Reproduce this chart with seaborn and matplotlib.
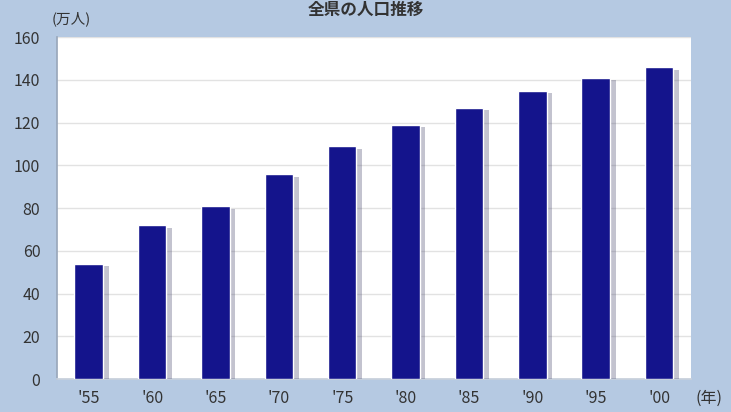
import matplotlib
matplotlib.use("Agg")
import matplotlib.pyplot as plt
import matplotlib.patheffects as pe
import pandas as pd
import seaborn as sns

years = ["'55", "'60", "'65", "'70", "'75", "'80", "'85", "'90", "'95", "'00"]
population = [54, 72, 81, 96, 109, 119, 127, 135, 141, 146]
yticks = [0, 20, 40, 60, 80, 100, 120, 140, 160]

sns.set_theme(style="white")
plt.rcParams["font.family"] = ["Noto Sans CJK JP", "DejaVu Sans"]

bg = "#b5c9e2"
bar_color = "#14148c"

df = pd.DataFrame({"year": years, "pop": population})

fig = plt.figure(figsize=(7.31, 4.12), dpi=100, facecolor=bg)
ax = fig.add_axes([0.078, 0.080, 0.867, 0.830])
ax.set_facecolor("white")

sns.barplot(data=df, x="year", y="pop", color=bar_color, saturation=1,
            width=0.45, ax=ax, zorder=3)
for p in ax.patches:
    p.set_path_effects([pe.SimplePatchShadow(offset=(4, -2), shadow_rgbFace="#555577", alpha=0.35),
                        pe.Normal()])

ax.set_ylim(0, 160)
ax.set_xlim(-0.5, 9.5)
ax.set_yticks(yticks)
ax.yaxis.grid(True, color="#e2e2e2", linewidth=1, zorder=0)
ax.set_xlabel("")
ax.set_ylabel("")
for s in ax.spines.values():
    s.set_visible(False)
ax.spines["left"].set_visible(True)
ax.spines["left"].set_color("#9aa8bb")
ax.spines["bottom"].set_visible(True)
ax.spines["bottom"].set_color("#c8d0dc")
ax.tick_params(axis="both", length=0, labelsize=11.5, colors="#333333")
ax.tick_params(axis="x", pad=8)
ax.tick_params(axis="y", pad=12)

fig.text(0.5, 0.997, "全県の人口推移", ha="center", va="top",
         fontsize=12, fontweight="bold", color="#333333")
fig.text(0.071, 0.955, "(万人)", ha="left", va="center", fontsize=10.5, color="#333333")
fig.text(0.970, 0.033, "(年)", ha="center", va="center", fontsize=11.5, color="#333333")

fig.savefig("out.png", dpi=100, facecolor=bg)
